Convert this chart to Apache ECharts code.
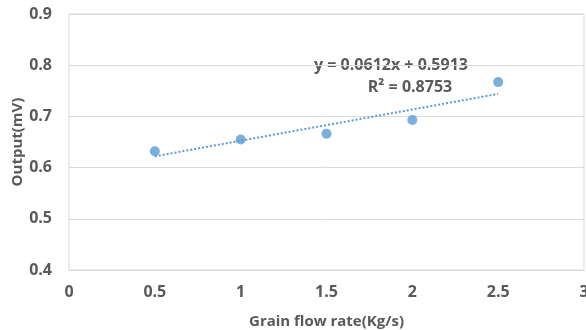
<!DOCTYPE html>
<html>
<head>
<meta charset="utf-8">
<script src="https://cdn.jsdelivr.net/npm/echarts@6/dist/echarts.min.js"></script>
<style>
  html, body { margin: 0; padding: 0; background: #fff; }
  #chart { width: 586px; height: 330px; }
</style>
</head>
<body>
<div id="chart"></div>
<script>
const flowRate = [0.5, 1, 1.5, 2, 2.5];
const output = [0.632, 0.655, 0.666, 0.693, 0.767];
// linear trend ends, as drawn
const trendX = [0.5, 2.5];
const trendY = [0.622, 0.744];
const eqText = "y = 0.0612x + 0.5913";
const r2Text = "R² = 0.8753";

const blue = "#5b9bd5";
const textGray = "#595959";
const lineGray = "#d9d9d9";
const font = "Open Sans, Liberation Sans, sans-serif";

const chart = echarts.init(document.getElementById("chart"), null, { renderer: "canvas" });
chart.setOption({
  animation: false,
  grid: {
    left: 69, right: 2, top: 14, bottom: 60,
    outerBoundsMode: "none",
    show: true, borderColor: lineGray, borderWidth: 1
  },
  xAxis: {
    type: "value", min: 0, max: 3, interval: 0.5,
    name: "Grain flow rate(Kg/s)", nameLocation: "middle", nameGap: 44,
    nameMoveOverlap: false,
    nameTextStyle: { color: textGray, fontSize: 15, fontWeight: "bold", fontFamily: font },
    axisLine: { show: true, lineStyle: { color: lineGray } },
    axisTick: { show: false },
    splitLine: { show: false },
    axisLabel: { color: textGray, fontSize: 16, fontWeight: "bold", fontFamily: font, margin: 14 }
  },
  yAxis: {
    type: "value", min: 0.4, max: 0.9, interval: 0.1,
    name: "Output(mV)", nameLocation: "middle", nameGap: 44,
    nameMoveOverlap: false,
    nameTextStyle: { color: textGray, fontSize: 15, fontWeight: "bold", fontFamily: font },
    axisLine: { show: false },
    axisTick: { show: false },
    splitLine: { lineStyle: { color: lineGray } },
    axisLabel: {
      color: textGray, fontSize: 16, fontWeight: "bold", fontFamily: font, margin: 17,
      formatter: v => v.toFixed(1)
    }
  },
  series: [
    {
      type: "line",
      data: trendX.map((x, i) => [x, trendY[i]]),
      symbol: "none",
      lineStyle: { color: blue, width: 2, type: [2, 2] },
      z: 2
    },
    {
      type: "scatter",
      data: flowRate.map((x, i) => [x, output[i]]),
      symbolSize: 10,
      itemStyle: { color: blue },
      z: 3
    }
  ],
  graphic: [
    {
      type: "text", x: 391, y: 65,
      style: { text: eqText, fill: textGray, font: "bold 16px " + font, align: "center", verticalAlign: "middle" }
    },
    {
      type: "text", x: 410, y: 87,
      style: { text: r2Text, fill: textGray, font: "bold 16px " + font, align: "center", verticalAlign: "middle" }
    }
  ]
});
</script>
</body>
</html>
